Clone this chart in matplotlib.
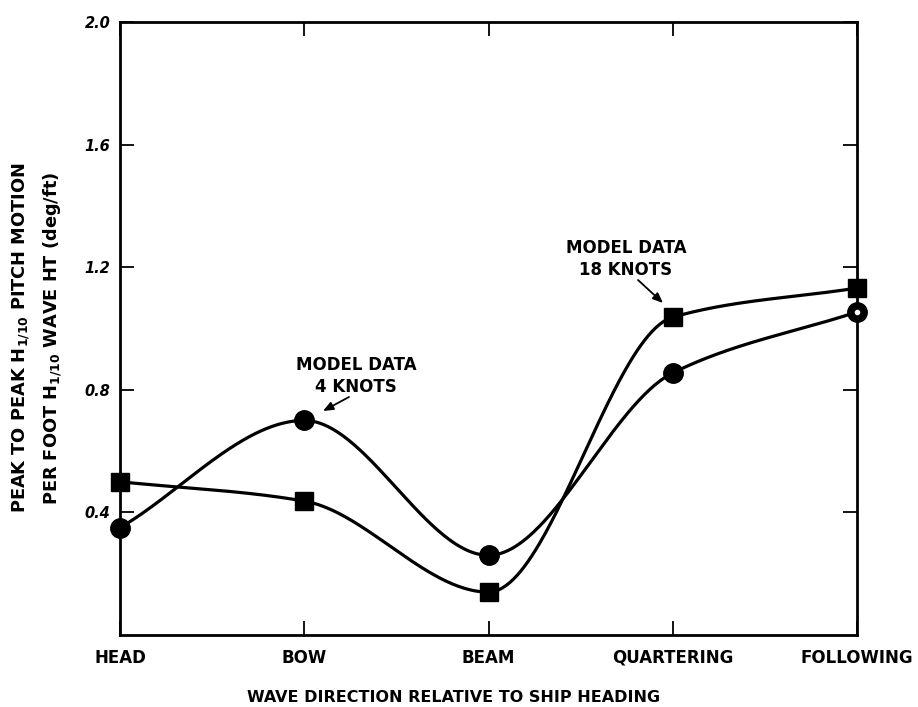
import numpy as np
import matplotlib
matplotlib.use("Agg")
import matplotlib.pyplot as plt

categories = ["HEAD", "BOW", "BEAM", "QUARTERING", "FOLLOWING"]
knots4 = [0.35, 0.70, 0.26, 0.855, 1.054]     # circles
knots18 = [0.50, 0.437, 0.14, 1.037, 1.132]   # squares
yticks = [0.4, 0.8, 1.2, 1.6, 2.0]

plt.rcParams['font.family'] = ['DejaVu Sans']
plt.rcParams['mathtext.fontset'] = 'dejavusans'


def smooth(x, y, xs):
    """Monotone cubic (PCHIP-style) curve through the points, secant slopes at ends."""
    x = np.asarray(x, float); y = np.asarray(y, float)
    h = np.diff(x); dl = np.diff(y) / h
    n = len(x); d = np.zeros(n)
    for k in range(1, n - 1):
        if dl[k - 1] * dl[k] > 0:
            w1 = 2 * h[k] + h[k - 1]; w2 = h[k] + 2 * h[k - 1]
            d[k] = (w1 + w2) / (w1 / dl[k - 1] + w2 / dl[k])
    d[0] = dl[0]
    d[-1] = dl[-1]
    idx = np.clip(np.searchsorted(x, xs) - 1, 0, n - 2)
    t = (xs - x[idx]) / h[idx]
    h00 = 2 * t**3 - 3 * t**2 + 1; h10 = t**3 - 2 * t**2 + t
    h01 = -2 * t**3 + 3 * t**2; h11 = t**3 - t**2
    return h00 * y[idx] + h10 * h[idx] * d[idx] + h01 * y[idx + 1] + h11 * h[idx] * d[idx + 1]


fig = plt.figure(figsize=(9.18, 7.07), dpi=100)
ax = fig.add_axes([120/918, 1-635/707, (857-120)/918, (635-22)/707])

x = np.arange(len(categories))
xs = np.linspace(0, len(categories) - 1, 400)
lw = 2.3
ax.plot(xs, smooth(x, knots4, xs), color='black', lw=lw, clip_on=False)
ax.plot(xs, smooth(x, knots18, xs), color='black', lw=lw, clip_on=False)
ax.plot(x, knots4, 'o', color='black', ms=14, clip_on=False, zorder=5)
ax.plot(x, knots18, 's', color='black', ms=13.5, clip_on=False, zorder=5)
# small white dot in last circle
ax.plot([x[-1]], [knots4[-1]], 'o', color='white', ms=3, clip_on=False, zorder=6)

ax.set_xlim(0, len(categories) - 1)
ax.set_ylim(0, 2.0)
ax.set_xticks(x)
ax.set_xticklabels(categories, fontsize=12, fontweight='bold')
ax.set_yticks(yticks)
ax.set_yticklabels([f"{v:.1f}" for v in yticks], fontsize=10.5, fontweight='bold', fontstyle='italic')
ax.tick_params(axis='both', direction='in', length=10, width=1.3, top=True, right=True)
ax.tick_params(axis='x', pad=10)
ax.tick_params(axis='y', pad=7)
for s in ax.spines.values():
    s.set_linewidth(2.0)


def px2data(px, py):
    return ((px - 120) / 184.25, (635 - py) / 306.5)

arrow = dict(arrowstyle='-|>,head_length=0.6,head_width=0.25', color='black', lw=1.3, shrinkA=0, shrinkB=0)
ax.annotate('', xy=px2data(323, 411), xytext=px2data(349, 397), arrowprops=arrow)
ax.annotate('', xy=px2data(663, 303), xytext=px2data(638, 280), arrowprops=arrow)
tx, ty = px2data(356, 376)
ax.text(tx, ty, "MODEL DATA\n4 KNOTS", ha='center', va='center', fontsize=12,
        fontweight='bold', linespacing=1.3)
tx, ty = px2data(626, 259)
ax.text(tx, ty, "MODEL DATA\n18 KNOTS", ha='center', va='center', fontsize=12,
        fontweight='bold', linespacing=1.3)

fig.text(21/918, 1-338/707, r"PEAK TO PEAK H$_{\mathbf{1/10}}$ PITCH MOTION",
         rotation=90, ha='center', va='center', fontsize=12.8, fontweight='bold')
fig.text(53/918, 1-338/707, r"PER FOOT H$_{\mathbf{1/10}}$ WAVE HT (deg/ft)",
         rotation=90, ha='center', va='center', fontsize=12.8, fontweight='bold')
fig.text(454/918, 1-697/707, "WAVE DIRECTION RELATIVE TO SHIP HEADING",
         ha='center', va='center', fontsize=11.5, fontweight='bold')

fig.savefig("out.png", dpi=100, facecolor='white')
